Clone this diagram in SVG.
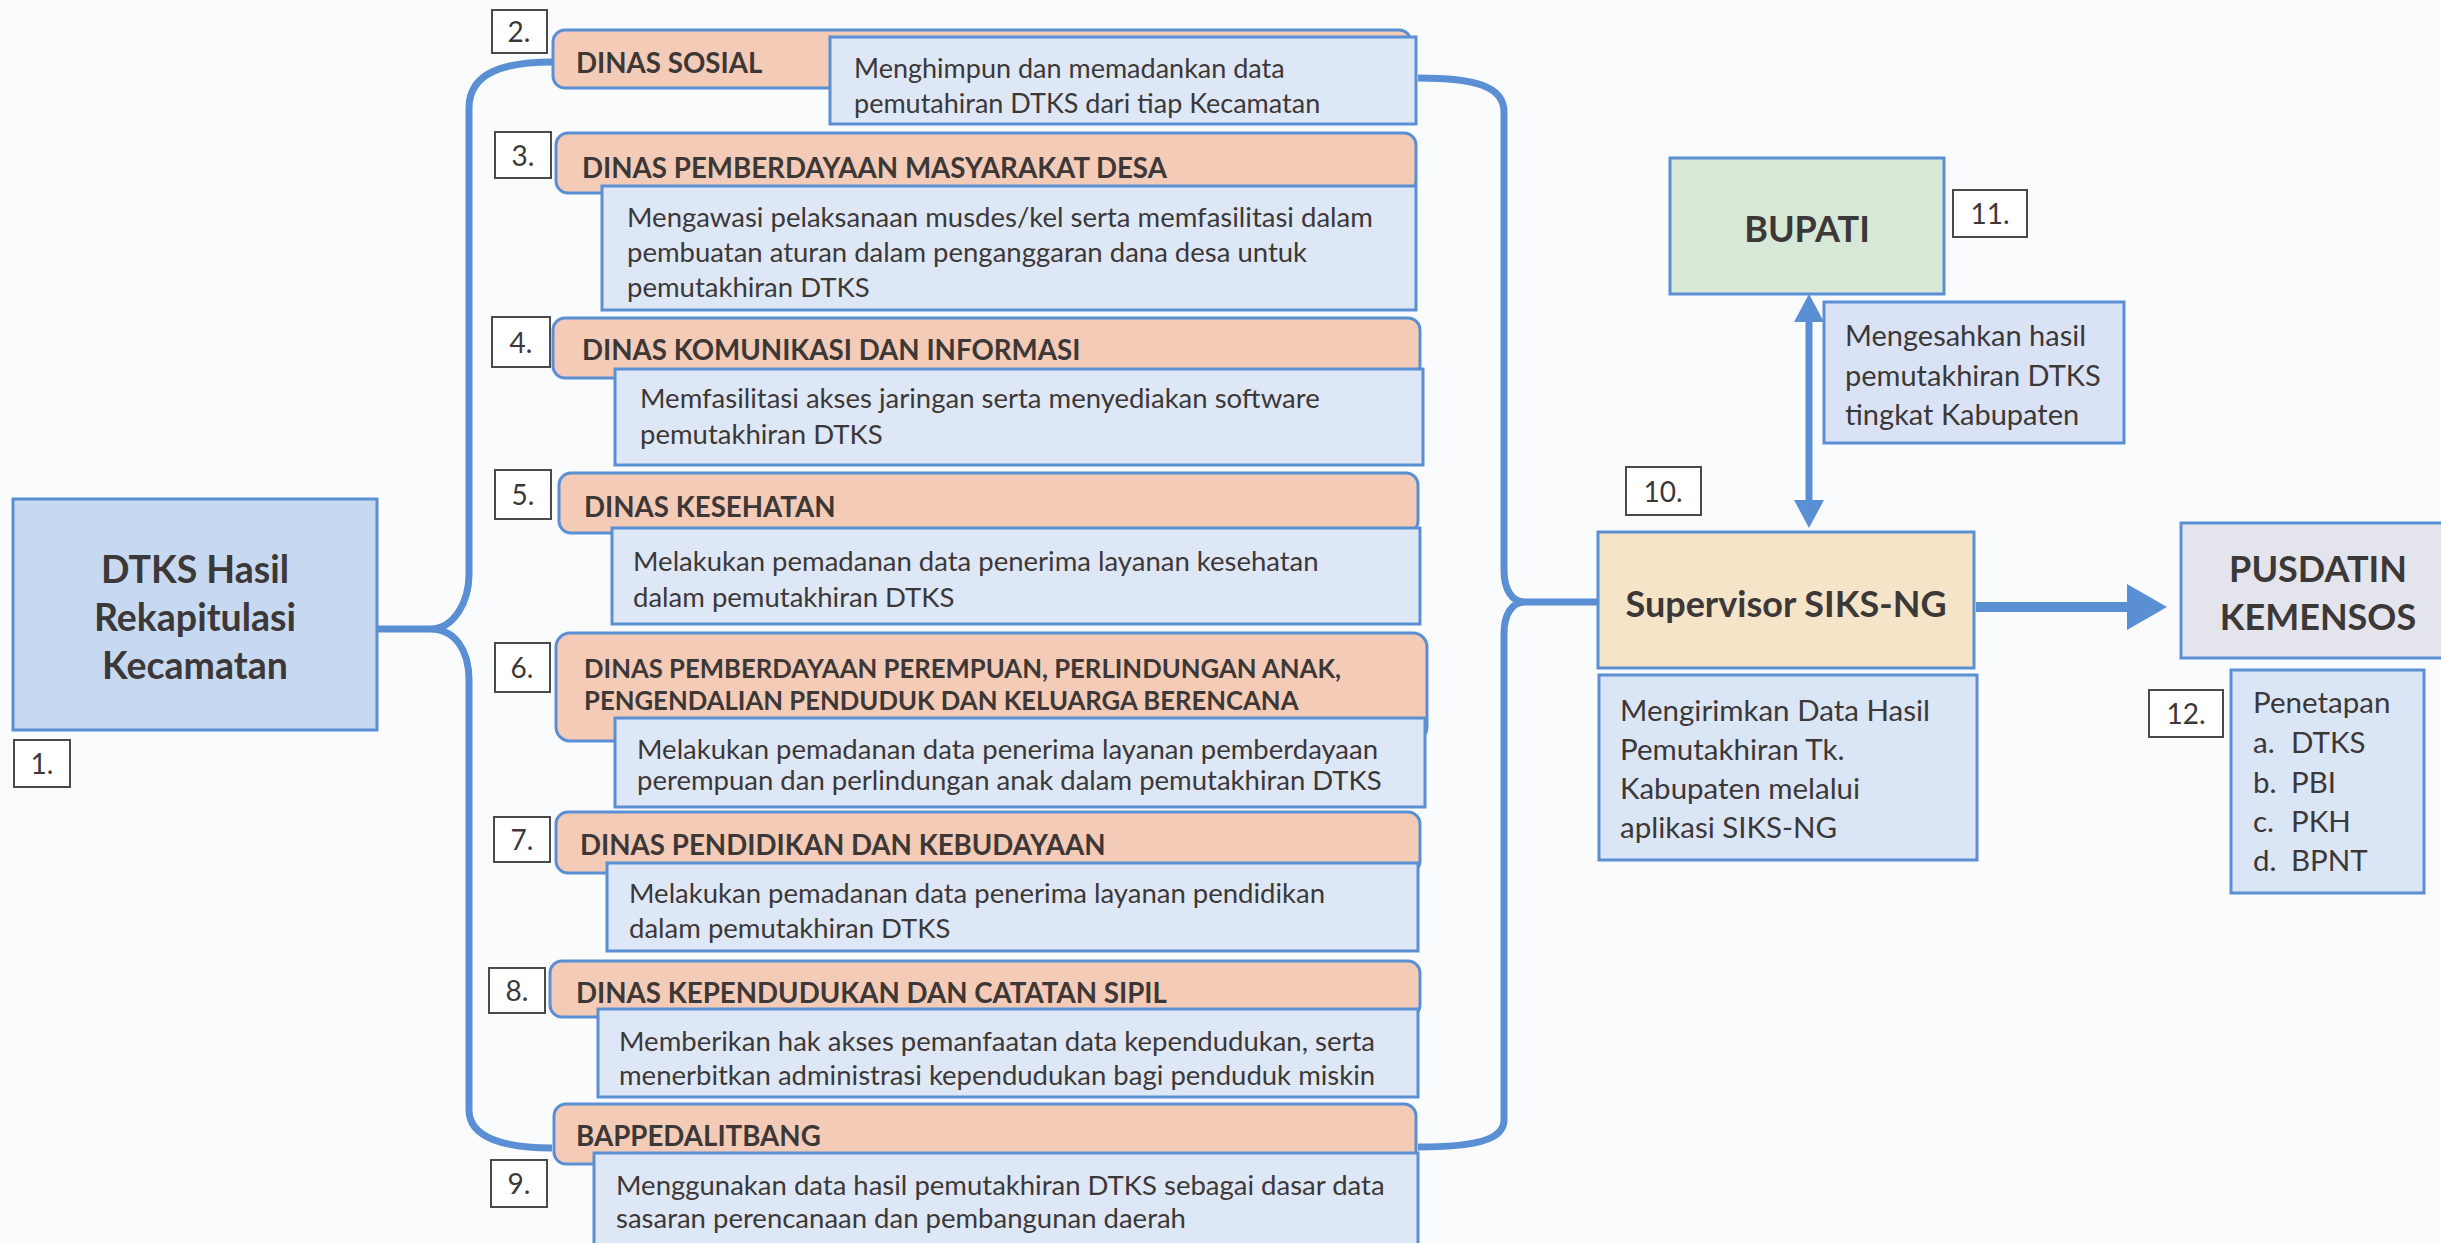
<svg xmlns="http://www.w3.org/2000/svg" width="2441" height="1243" viewBox="0 0 2441 1243">
<style>
.bg{fill:#fafbfc}
.hdr{fill:#f4cbb7;stroke:#5b8fd4;stroke-width:3}
.desc{fill:#dde7f5;stroke:#5b8fd4;stroke-width:3}
.lbl{fill:#ffffff;stroke:#4a4a4a;stroke-width:2}
.t{font-family:Lato,"Liberation Sans",sans-serif;fill:#3d3838}
.h{font-weight:bold;font-size:27.7px}
.d{font-size:27.5px}
.r{font-size:29.5px}
.n{font-size:28px;text-anchor:middle}
.big{font-weight:bold;font-size:36px;text-anchor:middle}
.conn{fill:none;stroke:#5b8fd4;stroke-width:7}
</style>
<defs>
<marker id="ah" markerUnits="userSpaceOnUse" markerWidth="28" markerHeight="30" refX="0" refY="15" orient="auto-start-reverse" viewBox="0 0 28 30">
<path d="M0,0 L28,15 L0,30 z" fill="#5b8fd4"/>
</marker>
<marker id="ahBig" markerUnits="userSpaceOnUse" markerWidth="40" markerHeight="46" refX="0" refY="23" orient="auto" viewBox="0 0 40 46">
<path d="M0,0 L40,23 L0,46 z" fill="#5b8fd4"/>
</marker>
</defs>
<rect class="bg" x="0" y="0" width="2441" height="1243"/>

<g id="connectors">
<path class="conn" d="M553 62 C505 62 469 72 469 108 L469 575 C469 600 455 629 430 629 L377 629 M430 629 C455 629 469 650 469 680 L469 1110 C469 1138 505 1148 552 1148"/>
<path class="conn" d="M1418 78 C1475 78 1504 86 1504 112 L1504 570 C1504 590 1512 602 1525 602 L1618 602 M1525 602 C1512 602 1504 614 1504 634 L1504 1120 C1504 1140 1475 1147 1418 1147"/>
<line class="conn" x1="1809" y1="322" x2="1809" y2="500" marker-start="url(#ah)" marker-end="url(#ah)"/>
<line class="conn" x1="1976" y1="607" x2="2127" y2="607" style="stroke-width:10" marker-end="url(#ahBig)"/>
</g>

<g id="node1">
<rect x="13" y="499" width="364" height="231" fill="#c7d9f0" stroke="#5b8fd4" stroke-width="3"/>
<text class="t big" x="195" y="583" style="font-size:37.5px">DTKS Hasil</text>
<text class="t big" x="195" y="631" style="font-size:37.5px">Rekapitulasi</text>
<text class="t big" x="195" y="679" style="font-size:37.5px">Kecamatan</text>
<rect class="lbl" x="14" y="740" width="56" height="47"/>
<text class="t n" x="42" y="774">1.</text>
</g>

<g id="node2">
<rect class="lbl" x="492" y="10" width="55" height="43"/>
<text class="t n" x="519" y="42">2.</text>
<rect class="hdr" x="553" y="30" width="858" height="58" rx="12"/>
<text class="t h" x="576" y="73">DINAS SOSIAL</text>
<rect class="desc" x="830" y="37" width="586" height="87"/>
<text class="t d" x="854" y="78" style="font-size:27px">Menghimpun dan memadankan data</text>
<text class="t d" x="854" y="113" style="font-size:27px">pemutahiran DTKS dari tiap Kecamatan</text>
</g>

<g id="node3">
<rect class="lbl" x="495" y="132" width="56" height="46"/>
<text class="t n" x="523" y="166">3.</text>
<rect class="hdr" x="556" y="133" width="860" height="60" rx="12"/>
<text class="t h" x="582" y="178">DINAS PEMBERDAYAAN MASYARAKAT DESA</text>
<rect class="desc" x="602" y="186" width="814" height="124"/>
<text class="t d" x="627" y="227">Mengawasi pelaksanaan musdes/kel serta memfasilitasi dalam</text>
<text class="t d" x="627" y="262">pembuatan aturan dalam penganggaran dana desa untuk</text>
<text class="t d" x="627" y="297">pemutakhiran DTKS</text>
</g>

<g id="node4">
<rect class="lbl" x="492" y="317" width="58" height="50"/>
<text class="t n" x="521" y="353">4.</text>
<rect class="hdr" x="553" y="318" width="867" height="60" rx="12"/>
<text class="t h" x="582" y="360">DINAS KOMUNIKASI DAN INFORMASI</text>
<rect class="desc" x="615" y="369" width="808" height="96"/>
<text class="t d" x="640" y="408">Memfasilitasi akses jaringan serta menyediakan software</text>
<text class="t d" x="640" y="444">pemutakhiran DTKS</text>
</g>

<g id="node5">
<rect class="lbl" x="495" y="470" width="56" height="49"/>
<text class="t n" x="523" y="505">5.</text>
<rect class="hdr" x="559" y="473" width="859" height="60" rx="12"/>
<text class="t h" x="584" y="517">DINAS KESEHATAN</text>
<rect class="desc" x="612" y="528" width="808" height="96"/>
<text class="t d" x="633" y="571">Melakukan pemadanan data penerima layanan kesehatan</text>
<text class="t d" x="633" y="607">dalam pemutakhiran DTKS</text>
</g>

<g id="node6">
<rect class="lbl" x="495" y="643" width="55" height="49"/>
<text class="t n" x="522" y="678">6.</text>
<rect class="hdr" x="556" y="633" width="871" height="108" rx="14"/>
<text class="t h" x="584" y="678" style="font-size:25.7px">DINAS PEMBERDAYAAN PEREMPUAN, PERLINDUNGAN ANAK,</text>
<text class="t h" x="584" y="710" style="font-size:25.7px">PENGENDALIAN PENDUDUK DAN KELUARGA BERENCANA</text>
<rect class="desc" x="615" y="718" width="810" height="89"/>
<text class="t d" x="637" y="759">Melakukan pemadanan data penerima layanan pemberdayaan</text>
<text class="t d" x="637" y="790">perempuan dan perlindungan anak dalam pemutakhiran DTKS</text>
</g>

<g id="node7">
<rect class="lbl" x="494" y="817" width="56" height="45"/>
<text class="t n" x="522" y="850">7.</text>
<rect class="hdr" x="556" y="812" width="864" height="61" rx="12"/>
<text class="t h" x="580" y="855">DINAS PENDIDIKAN DAN KEBUDAYAAN</text>
<rect class="desc" x="607" y="863" width="811" height="88"/>
<text class="t d" x="629" y="903">Melakukan pemadanan data penerima layanan pendidikan</text>
<text class="t d" x="629" y="938">dalam pemutakhiran DTKS</text>
</g>

<g id="node8">
<rect class="lbl" x="489" y="968" width="56" height="45"/>
<text class="t n" x="517" y="1001">8.</text>
<rect class="hdr" x="550" y="961" width="870" height="56" rx="12"/>
<text class="t h" x="576" y="1003">DINAS KEPENDUDUKAN DAN CATATAN SIPIL</text>
<rect class="desc" x="598" y="1009" width="820" height="88"/>
<text class="t d" x="619" y="1051">Memberikan hak akses pemanfaatan data kependudukan,  serta</text>
<text class="t d" x="619" y="1085">menerbitkan administrasi kependudukan bagi penduduk miskin</text>
</g>

<g id="node9">
<rect class="lbl" x="491" y="1160" width="56" height="47"/>
<text class="t n" x="519" y="1194">9.</text>
<rect class="hdr" x="554" y="1104" width="862" height="60" rx="12"/>
<text class="t h" x="576" y="1146">BAPPEDALITBANG</text>
<rect class="desc" x="594" y="1153" width="824" height="100"/>
<text class="t d" x="616" y="1195">Menggunakan data hasil pemutakhiran DTKS sebagai dasar data</text>
<text class="t d" x="616" y="1228">sasaran perencanaan dan pembangunan daerah</text>
</g>

<g id="node10">
<rect class="lbl" x="1626" y="467" width="75" height="48"/>
<text class="t n" x="1663" y="502">10.</text>
<rect x="1598" y="532" width="376" height="136" fill="#f5e4c7" stroke="#5b8fd4" stroke-width="3"/>
<text class="t big" x="1786" y="617">Supervisor SIKS-NG</text>
<rect x="1599" y="675" width="378" height="185" fill="#dae5f5" stroke="#5b8fd4" stroke-width="3"/>
<text class="t r" x="1620" y="721">Mengirimkan Data Hasil</text>
<text class="t r" x="1620" y="760">Pemutakhiran Tk.</text>
<text class="t r" x="1620" y="799">Kabupaten melalui</text>
<text class="t r" x="1620" y="838">aplikasi SIKS-NG</text>
</g>

<g id="node11">
<rect x="1670" y="158" width="274" height="136" fill="#d8e8d6" stroke="#5b8fd4" stroke-width="3"/>
<text class="t big" x="1807" y="242">BUPATI</text>
<rect class="lbl" x="1953" y="190" width="74" height="47"/>
<text class="t n" x="1990" y="224">11.</text>
<rect x="1824" y="302" width="300" height="141" fill="#d9e3f5" stroke="#5b8fd4" stroke-width="3"/>
<text class="t r" x="1845" y="346" style="font-size:29px">Mengesahkan hasil</text>
<text class="t r" x="1845" y="386" style="font-size:29px">pemutakhiran DTKS</text>
<text class="t r" x="1845" y="425" style="font-size:29px">tingkat Kabupaten</text>
</g>

<g id="node12">
<rect x="2181" y="523" width="275" height="135" fill="#e4e4ec" stroke="#5b8fd4" stroke-width="3"/>
<text class="t big" x="2318" y="582">PUSDATIN</text>
<text class="t big" x="2318" y="630">KEMENSOS</text>
<rect class="lbl" x="2149" y="690" width="74" height="47"/>
<text class="t n" x="2186" y="724">12.</text>
<rect x="2231" y="670" width="193" height="223" fill="#dae5f5" stroke="#5b8fd4" stroke-width="3"/>
<text class="t r" x="2253" y="713">Penetapan</text>
<text class="t r" x="2253" y="753">a.</text><text class="t r" x="2291" y="753">DTKS</text>
<text class="t r" x="2253" y="793">b.</text><text class="t r" x="2291" y="793">PBI</text>
<text class="t r" x="2253" y="832">c.</text><text class="t r" x="2291" y="832">PKH</text>
<text class="t r" x="2253" y="871">d.</text><text class="t r" x="2291" y="871">BPNT</text>
</g>
</svg>
